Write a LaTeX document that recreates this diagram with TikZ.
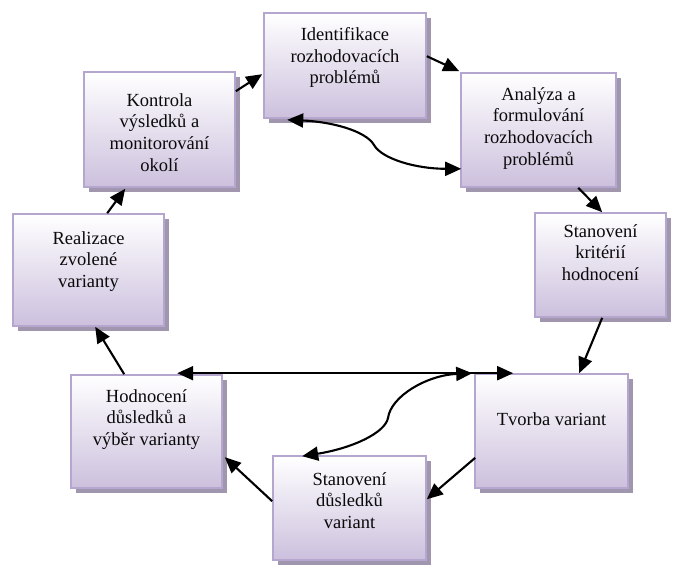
\documentclass[tikz,border=0pt]{standalone}
\usepackage{fontspec}
\setmainfont{Liberation Serif}
\usetikzlibrary{arrows.meta,shadows,calc}
\definecolor{boxedge}{RGB}{180,166,206}
\definecolor{boxbottom}{RGB}{204,192,221}
\definecolor{boxshadow}{RGB}{160,150,174}
\definecolor{inkc}{RGB}{10,10,10}
\tikzset{
  stage/.style={draw=boxedge, line width=1.6pt, top color=white, bottom color=boxbottom,
    inner sep=0pt, general shadow={fill=boxshadow, shadow xshift=4.5pt, shadow yshift=-4.5pt}},
  caption/.style={anchor=north, align=center, inner sep=0pt, text=inkc,
    font=\fontsize{18.5}{21.7}\selectfont},
  tipshape/.tip={Triangle[length=16pt,width=14pt]},
  flow/.style={line width=2.1pt, -tipshape},
  twoway/.style={line width=2.1pt, tipshape-tipshape},
}
\begin{document}
\begin{tikzpicture}[x=1pt,y=-1pt]
\useasboundingbox (0,0) rectangle (678,571);

% process stages (centre, width, height)
\node[stage, minimum width=162pt, minimum height=105pt] (b1) at (345,65.5) {};
\node[stage, minimum width=155pt, minimum height=114pt] (b2) at (538.5,130) {};
\node[stage, minimum width=131pt, minimum height=104pt] (b3) at (600.5,265) {};
\node[stage, minimum width=153pt, minimum height=114pt] (b4) at (551.5,431) {};
\node[stage, minimum width=153pt, minimum height=104pt] (b5) at (349.5,508) {};
\node[stage, minimum width=151pt, minimum height=113pt] (b6) at (146.5,431.5) {};
\node[stage, minimum width=151pt, minimum height=112pt] (b7) at (88.5,270) {};
\node[stage, minimum width=151pt, minimum height=115pt] (b8) at (159.5,129.5) {};

% stage captions
\node[caption] (t1) at ([yshift=-15pt]b1.north) {Identifikace\\rozhodovacích\\problémů};
\node[caption] (t2) at ([yshift=-15pt]b2.north) {Analýza a\\formulování\\rozhodovacích\\problémů};
\node[caption] (t3) at ([yshift=-12pt]b3.north) {Stanovení\\kritérií\\hodnocení};
\node[caption] (t4) at ([yshift=-39pt]b4.north) {Tvorba variant};
\node[caption] (t5) at ([yshift=-17pt]b5.north) {Stanovení\\důsledků\\variant};
\node[caption] (t6) at ([yshift=-15pt]b6.north) {Hodnocení\\důsledků a\\výběr varianty};
\node[caption] (t7) at ([yshift=-18pt]b7.north) {Realizace\\zvolené\\varianty};
\node[caption] (t8) at ([yshift=-22pt]b8.north) {Kontrola\\výsledků a\\monitorování\\okolí};

% main cycle
\draw[flow] ([shift={(95,0)}]b7.north west) -- ([shift={(42,1)}]b8.south west);
\draw[flow] ([shift={(0,20)}]b8.north east) -- ([shift={(-1,62)}]b1.north west);
\draw[flow] ([shift={(0,44)}]b1.north east) -- ([shift={(-1,-1)}]b2.north west);
\draw[flow] ([shift={(118,0)}]b2.south west) -- ([shift={(68,0)}]b3.north west);
\draw[flow] ([shift={(68,0)}]b3.south west) -- ([shift={(105,0)}]b4.north west);
\draw[flow] ([shift={(1,-31)}]b4.south west) -- ([shift={(0,44)}]b5.north east);
\draw[flow] ([shift={(0,46)}]b5.north west) -- ([shift={(2,83)}]b6.north east);
\draw[flow] ([shift={(54,0)}]b6.north west) -- ([shift={(83,0)}]b7.south west);

% feedback links
\draw[twoway] ([shift={(107,-1)}]b6.north west) -- ([shift={(39,0)}]b4.north west);

\coordinate (m1) at (374,145);
\draw[twoway] ([shift={(24,1)}]b1.south west)
  .. controls +(45,2) and +(-8,-14) .. (m1)
  .. controls +(8,14) and +(-45,0) .. ([shift={(1,-19)}]b2.south west);

\coordinate (m2) at (388,418);
\draw[twoway] ([shift={(30,1)}]b5.north west)
  .. controls +(50,-8) and +(-3,15) .. (m2)
  .. controls +(3,-22) and +(-45,2) .. ([shift={(-2,0)}]b4.north west);
\end{tikzpicture}
\end{document}
